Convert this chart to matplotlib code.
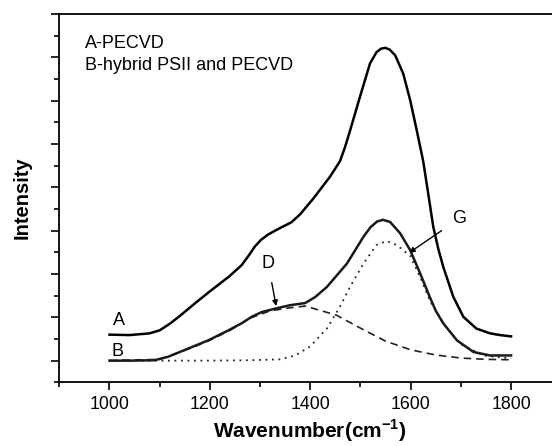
import matplotlib.pyplot as plt
from matplotlib.ticker import MultipleLocator, NullFormatter

plt.rcParams['font.family'] = ['Liberation Sans', 'DejaVu Sans']

# 曲线 A (PECVD)
wave_a = [1000, 1040, 1080, 1100, 1120, 1140, 1170, 1200, 1237, 1263, 1277, 1290,
          1302, 1316, 1330, 1343, 1362, 1380, 1406, 1439, 1459, 1469, 1479, 1499,
          1519, 1532, 1541, 1549, 1558, 1569, 1585, 1599, 1612, 1625, 1635, 1645,
          1655, 1665, 1685, 1705, 1731, 1758, 1778, 1800]
int_a = [0.60, 0.59, 0.63, 0.70, 0.85, 1.03, 1.32, 1.60, 1.93, 2.20, 2.42, 2.64,
         2.79, 2.91, 3.00, 3.08, 3.19, 3.38, 3.74, 4.24, 4.60, 4.92, 5.30, 6.09,
         6.86, 7.12, 7.20, 7.22, 7.18, 7.05, 6.63, 6.01, 5.32, 4.60, 3.85, 3.09,
         2.58, 2.16, 1.47, 1.01, 0.74, 0.63, 0.59, 0.56]

# 曲线 B (hybrid PSII and PECVD)
wave_b = [1000, 1040, 1090, 1117, 1157, 1197, 1237, 1263, 1283, 1303, 1330, 1360,
          1390, 1410, 1433, 1473, 1506, 1520, 1533, 1545, 1559, 1579, 1599, 1619,
          1638, 1650, 1665, 1692, 1725, 1758, 1800]
int_b = [0.00, 0.00, 0.01, 0.09, 0.28, 0.47, 0.70, 0.86, 1.01, 1.12, 1.20, 1.28,
         1.33, 1.47, 1.70, 2.24, 2.86, 3.08, 3.21, 3.25, 3.20, 2.94, 2.55, 2.01,
         1.47, 1.15, 0.86, 0.47, 0.20, 0.12, 0.12]

# G 峰拟合
wave_g = [1000, 1100, 1200, 1280, 1340, 1370, 1400, 1433, 1459, 1479, 1506, 1532,
          1552, 1572, 1599, 1619, 1638, 1665, 1698, 1745, 1800]
int_g = [0.00, 0.00, 0.00, 0.01, 0.03, 0.12, 0.33, 0.74, 1.24, 1.70, 2.24, 2.67,
         2.76, 2.67, 2.42, 1.93, 1.39, 0.86, 0.39, 0.12, 0.05]

# D 峰拟合
wave_d = [1000, 1100, 1160, 1200, 1240, 1280, 1320, 1360, 1390, 1452, 1500, 1550,
          1600, 1650, 1700, 1750, 1800]
int_d = [0.00, 0.03, 0.28, 0.47, 0.70, 0.98, 1.15, 1.22, 1.26, 1.05, 0.75, 0.45,
         0.25, 0.13, 0.06, 0.03, 0.02]

fig = plt.figure(figsize=(5.52, 4.46), dpi=100)
ax = fig.add_axes([0.1074, 0.1428, 0.9094, 0.8258])

ax.plot(wave_d, int_d, color='#222222', lw=1.2, ls=(0, (4.5, 3)))
ax.plot(wave_g, int_g, color='#222222', lw=1.3, ls=(0, (1, 2.6)))
ax.plot(wave_b, int_b, color='#1a1a1a', lw=1.8)
ax.plot(wave_a, int_a, color='black', lw=1.8)

ax.set_xlim(900, 1900)
ax.set_ylim(-0.5, 8)
ax.xaxis.set_major_locator(MultipleLocator(200))
ax.xaxis.set_minor_locator(MultipleLocator(100))
ax.yaxis.set_major_locator(MultipleLocator(1))
ax.yaxis.set_minor_locator(MultipleLocator(0.5))
ax.yaxis.set_major_formatter(NullFormatter())
ax.tick_params(which='major', direction='out', length=6, width=1.2, labelsize=12.8, pad=4)
ax.tick_params(which='minor', direction='out', length=3.5, width=1.2)
ax.tick_params(top=False, right=False, which='both')
for s in ax.spines.values():
    s.set_linewidth(1.3)

ax.set_xlabel('Wavenumber(cm$^{\\mathregular{-1}}$)', fontsize=15, fontweight='bold', labelpad=3)
ax.set_ylabel('Intensity', fontsize=14.5, fontweight='bold', labelpad=10)

ax.text(0.051, 0.92, 'A-PECVD', transform=ax.transAxes, fontsize=13, va='center')
ax.text(0.051, 0.86, 'B-hybrid PSII and PECVD', transform=ax.transAxes, fontsize=13, va='center')

ax.text(1018, 0.93, 'A', fontsize=13, ha='center', va='center')
ax.text(1016, 0.22, 'B', fontsize=13, ha='center', va='center')

ax.annotate('D', xy=(1332, 1.26), xytext=(1316, 2.25), fontsize=13, ha='center', va='center',
            arrowprops=dict(arrowstyle='-|>', color='black', lw=1.0, mutation_scale=8,
                            shrinkA=6, shrinkB=0))
ax.annotate('G', xy=(1597, 2.49), xytext=(1697, 3.28), fontsize=13, ha='center', va='center',
            arrowprops=dict(arrowstyle='-|>', color='black', lw=1.0, mutation_scale=8,
                            shrinkA=7, shrinkB=0))

fig.savefig('out.png', dpi=100)
